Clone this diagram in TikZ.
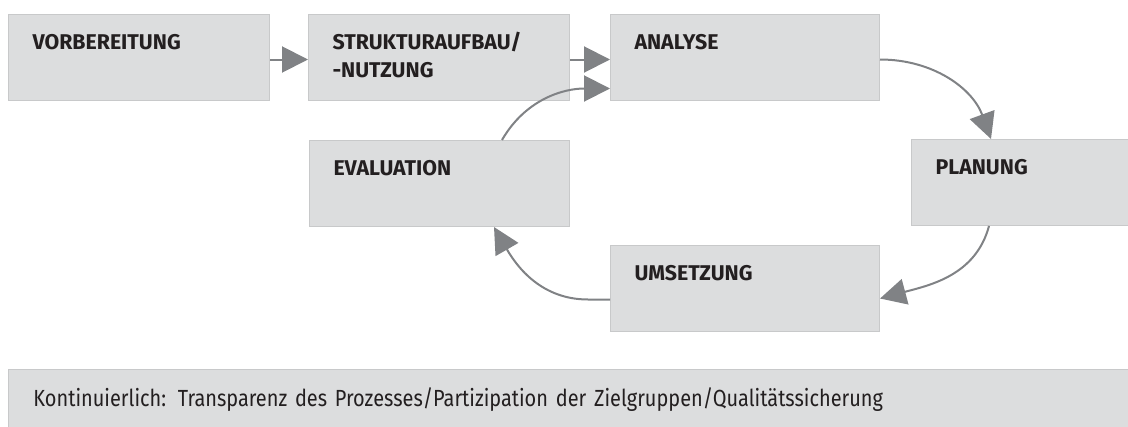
\documentclass[tikz,border=0pt]{standalone}
\usepackage{fontspec}
\setmainfont{Fira Sans}
\newfontfamily\contfont[FakeStretch=0.855]{Fira Sans}
\usepackage{tikz}
\usetikzlibrary{arrows.meta,positioning,calc}
\definecolor{boxgray}{HTML}{DCDDDE}
\definecolor{edgegray}{HTML}{C8C9CA}
\definecolor{arrgray}{HTML}{808285}
\definecolor{txtblack}{HTML}{231F20}
\newdimen\px \px=0.75pt

\begin{document}
\begin{tikzpicture}[x=0.75pt,y=0.75pt,
	stage/.style={draw=edgegray,line width=1\px,fill=boxgray,anchor=north west,inner xsep=24\px,inner ysep=0pt,text width=#1,text height=35\px,text depth=51\px,text=txtblack,font=\fontsize{16}{21}\selectfont\bfseries},
	flow/.style={draw=arrgray,line width=1.5pt,-{Triangle[length=19.5pt,width=19.5pt]}}]
	\useasboundingbox (0,0) rectangle (1128,426);
	\node[stage=213\px] (vorb) at (8,412) {VORBEREITUNG};
	\node[stage=213\px] (strukt) at (308,412) {STRUKTURAUFBAU/\\-NUTZUNG};
	\node[stage=221\px] (analyse) at (610,412) {ANALYSE};
	\node[stage=212\px] (eval) at (309,286) {EVALUATION};
	\node[stage=175\px] (planung) at (911,287) {PLANUNG};
	\node[stage=221\px] (umsetzung) at (610,181) {UMSETZUNG};
	\node[draw=edgegray,line width=1\px,fill=boxgray,anchor=north west,inner xsep=25\px,inner ysep=0pt,text width=1080\px,text height=37\px,text depth=30\px,text=txtblack,font=\fontsize{17.5}{20}\contfont] (cont) at (8,57) {Kontinuierlich: Transparenz des Prozesses/Partizipation der Zielgruppen/Qualitätssicherung};
	\draw[flow] ($(vorb.east)+(0,-2)$) -- ($(strukt.west)+(0,-2)$);
	\draw[flow] ($(strukt.east)+(0,-2)$) -- ($(analyse.west)+(0,-2)$);
	\draw[flow] ($(analyse.east)+(0,-2)$) to[out=0,in=110] ($(planung.north west)+(80,0)$);
	\draw[flow] ($(planung.south west)+(78,0)$) to[out=-105,in=15] ($(umsetzung.east)+(0,-10)$);
	\draw[flow] ($(umsetzung.west)+(0,-11)$) -- ++(-22,0) to[out=180,in=-60] ($(eval.south west)+(185,0)$);
	\draw[flow] ($(eval.north west)+(193,0)$) to[out=60,in=180] ($(analyse.west)+(0,-31)$);
\end{tikzpicture}
\end{document}
